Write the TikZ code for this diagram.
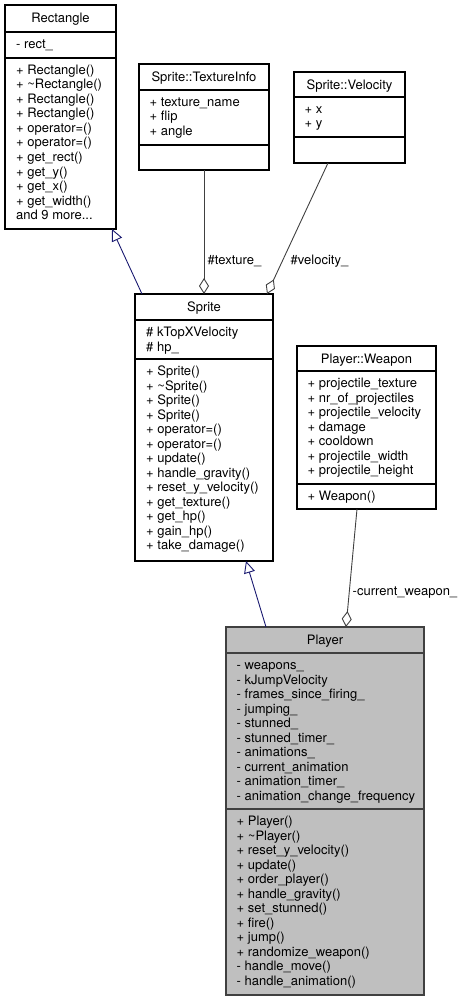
\documentclass[tikz,border=0pt]{standalone}
\usepackage{fontspec}
\setmainfont{TeX Gyre Heros}
\usetikzlibrary{arrows.meta,calc}
\definecolor{inhblue}{HTML}{191970}
\definecolor{agggray}{HTML}{404040}
\definecolor{curfill}{HTML}{BFBFBF}
\newcommand{\memfont}{\fontsize{13}{14.5}\selectfont}
\newcommand{\umlmembers}[4]{\foreach \mtxt [count=\mi] in {#4}{\node[member] (#1-\mi) at (#2,{#3+14.5*(\mi-1)}) {\mtxt};}}
\begin{document}
\begin{tikzpicture}[x=1pt,y=-1pt,
  box/.style={draw=black, line width=1.2pt, rectangle, inner sep=0pt, outer sep=0pt, anchor=north west},
  sepline/.style={line width=1.2pt},
  member/.style={anchor=base west, inner sep=0pt, font=\memfont},
  ctitle/.style={anchor=base, inner sep=0pt, font=\memfont},
  inh/.style={draw=inhblue, line width=0.9pt, -{Triangle[open,length=12pt,width=11pt]}},
  agg/.style={draw=agggray, line width=0.9pt, {Diamond[open,length=16pt,width=10pt]}-},
  elabel/.style={anchor=west, inner sep=0pt, font=\memfont}]
\useasboundingbox (0,0) rectangle (463,1003);

% ---------- Rectangle ----------
\node[box, minimum width=111pt, minimum height=224pt] (rect) at (5,5) {};
\draw[sepline] (rect.west |- 0,32) -- (rect.east |- 0,32);
\draw[sepline] (rect.west |- 0,58) -- (rect.east |- 0,58);
\node[ctitle] (rect-t) at (rect.north |- 0,22.5) {Rectangle};
\umlmembers{rect-a}{16}{48.5}{{- rect\_}}
\umlmembers{rect-m}{16}{74.5}{{+ Rectangle()},{+ \textasciitilde Rectangle()},{+ Rectangle()},{+ Rectangle()},{+ operator=()},{+ operator=()},{+ get\_rect()},{+ get\_y()},{+ get\_x()},{+ get\_width()},{and 9 more.{}.{}.}}

% ---------- Sprite::TextureInfo ----------
\node[box, minimum width=130pt, minimum height=106pt] (texinfo) at (139,64) {};
\draw[sepline] (texinfo.west |- 0,90) -- (texinfo.east |- 0,90);
\draw[sepline] (texinfo.west |- 0,145) -- (texinfo.east |- 0,145);
\node[ctitle] (texinfo-t) at (texinfo.north |- 0,81.5) {Sprite::TextureInfo};
\umlmembers{texinfo-a}{149.5}{106.5}{{+ texture\_name},{+ flip},{+ angle}}

% ---------- Sprite::Velocity ----------
\node[box, minimum width=111pt, minimum height=91pt] (velocity) at (294,72) {};
\draw[sepline] (velocity.west |- 0,97) -- (velocity.east |- 0,97);
\draw[sepline] (velocity.west |- 0,137) -- (velocity.east |- 0,137);
\node[ctitle] (velocity-t) at (velocity.north |- 0,89.5) {Sprite::Velocity};
\umlmembers{velocity-a}{304.5}{113.5}{{+ x},{+ y}}

% ---------- Sprite ----------
\node[box, minimum width=138pt, minimum height=267pt] (sprite) at (135,294) {};
\draw[sepline] (sprite.west |- 0,320) -- (sprite.east |- 0,320);
\draw[sepline] (sprite.west |- 0,359) -- (sprite.east |- 0,359);
\node[ctitle] (sprite-t) at (sprite.north |- 0,311.5) {Sprite};
\umlmembers{sprite-a}{146}{336.5}{{\# kTopXVelocity},{\# hp\_}}
\umlmembers{sprite-m}{146}{375.5}{{+ Sprite()},{+ \textasciitilde Sprite()},{+ Sprite()},{+ Sprite()},{+ operator=()},{+ operator=()},{+ update()},{+ handle\_gravity()},{+ reset\_y\_velocity()},{+ get\_texture()},{+ get\_hp()},{+ gain\_hp()},{+ take\_damage()}}

% ---------- Player::Weapon ----------
\node[box, minimum width=139pt, minimum height=163pt] (weapon) at (297,346) {};
\draw[sepline] (weapon.west |- 0,371) -- (weapon.east |- 0,371);
\draw[sepline] (weapon.west |- 0,484) -- (weapon.east |- 0,484);
\node[ctitle] (weapon-t) at (weapon.north |- 0,363.5) {Player::Weapon};
\umlmembers{weapon-a}{307.5}{387.5}{{+ projectile\_texture},{+ nr\_of\_projectiles},{+ projectile\_velocity},{+ damage},{+ cooldown},{+ projectile\_width},{+ projectile\_height}}
\umlmembers{weapon-m}{307.5}{500.5}{{+ Weapon()}}

% ---------- Player ----------
\node[box, draw=black!75, fill=curfill, minimum width=198pt, minimum height=368pt] (player) at (226,627) {};
\draw[sepline, draw=black!75] (player.west |- 0,653) -- (player.east |- 0,653);
\draw[sepline, draw=black!75] (player.west |- 0,809) -- (player.east |- 0,809);
\node[ctitle] (player-t) at (player.north |- 0,644.5) {Player};
\umlmembers{player-a}{236.5}{669.5}{{- weapons\_},{- kJumpVelocity},{- frames\_since\_firing\_},{- jumping\_},{- stunned\_},{- stunned\_timer\_},{- animations\_},{- current\_animation},{- animation\_timer\_},{- animation\_change\_frequency}}
\umlmembers{player-m}{236.5}{825.5}{{+ Player()},{+ \textasciitilde Player()},{+ reset\_y\_velocity()},{+ update()},{+ order\_player()},{+ handle\_gravity()},{+ set\_stunned()},{+ fire()},{+ jump()},{+ randomize\_weapon()},{- handle\_move()},{- handle\_animation()}}

% ---------- Connectors ----------
\draw[inh] ($(sprite.north west)+(7,0)$) -- ($(rect.south east)+(-4,0)$);
\draw[agg] (sprite.north) -- (texinfo.south);
\draw[agg] ($(sprite.north east)+(-6,0)$) -- ($(velocity.south west)+(34,0)$);
\draw[inh] ($(player.north west)+(40,0)$) -- ($(sprite.south west)+(111,0)$);
\draw[agg] ($(player.north west)+(120,0)$) -- ($(weapon.south west)+(60,0)$);

\node[elabel] (lbl-texture) at (207.5,261) {\#texture\_};
\node[elabel] (lbl-velocity) at (290.5,261) {\#velocity\_};
\node[elabel] (lbl-weapon) at (352.5,593) {-current\_weapon\_};
\end{tikzpicture}
\end{document}
